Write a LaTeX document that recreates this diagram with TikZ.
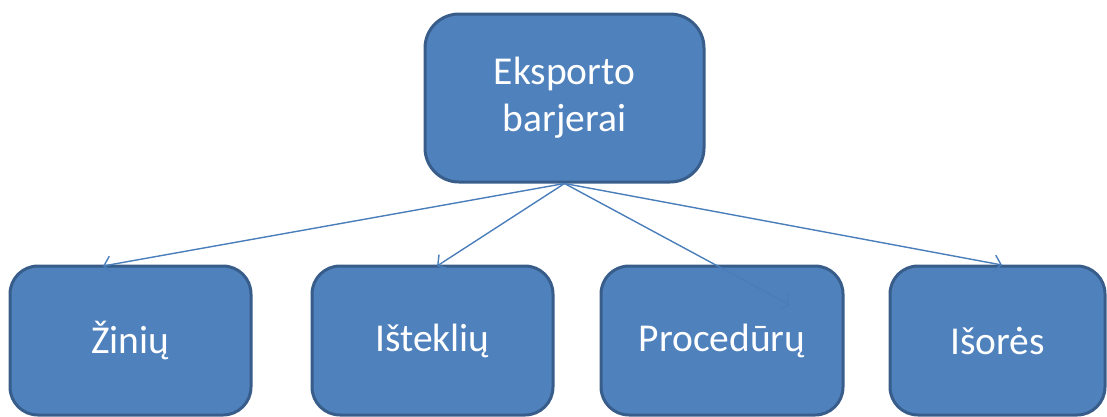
\documentclass[tikz,border=0pt]{standalone}
\usepackage{fontspec}
\setmainfont{Carlito}
\usepackage{xcolor}
\definecolor{boxFill}  {HTML}{4F81BD}
\definecolor{boxEdge}  {HTML}{385D8A}
\definecolor{linkLine} {HTML}{4A7EBB}
\usetikzlibrary{arrows.meta, positioning, calc}
\tikzset{
    barbox/.style={rectangle, rounded corners=28pt, draw=boxEdge, fill=boxFill,
                   line width=3pt, text=white, align=center, inner sep=0pt,
                   font=\fontsize{39.5}{47}\selectfont},
    rootbox/.style={barbox, minimum width=279pt, minimum height=168pt,
                    rounded corners=34pt},
    leafbox/.style={barbox, minimum width=241pt, minimum height=149pt},
    link/.style={-{Straight Barb[length=7pt,width=17pt]}, line width=1.4pt, linkLine},
}

\begin{document}
\begin{tikzpicture}[x=1pt, y=1pt]
    \useasboundingbox (0,0) rectangle (1107,-416);
    \node[rootbox] (root) at (564.5,-98) {Eksporto\\barjerai};
    \node[leafbox] (zin) at (130.5,-340.5) {Žinių};
    \node[leafbox] (ist) at (432.5,-340.5) {Išteklių};
    \node[leafbox, minimum width=242pt] (pro) at (722,-340.5) {Procedūrų};
    \node[leafbox, minimum width=215pt] (iso) at (997.5,-340.5) {Išorės};
    \coordinate (zinTip) at (103,-266);
    \coordinate (istTip) at (437,-266);
    \coordinate (proTip) at (790,-305);
    \coordinate (isoTip) at (1002,-265);
    \draw[link] (root.south) -- (zinTip);
    \draw[link] (root.south) -- (istTip);
    \draw[link] (root.south) -- (proTip);
    \draw[link] (root.south) -- (isoTip);
\end{tikzpicture}
\end{document}
